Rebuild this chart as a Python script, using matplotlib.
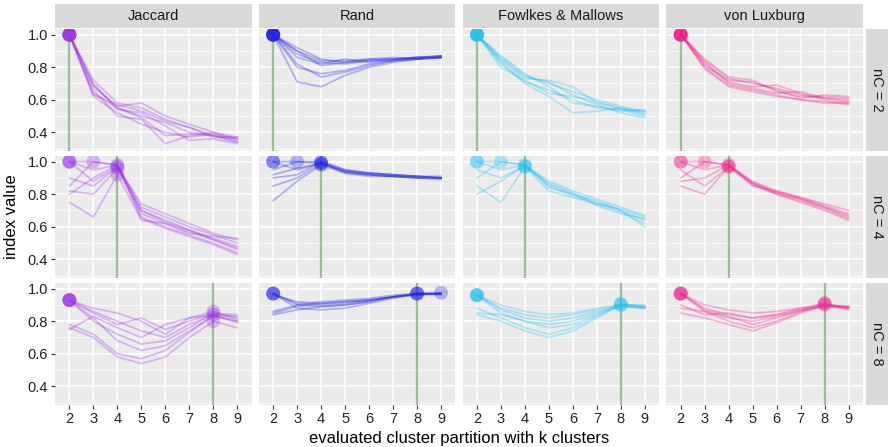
import numpy as np
import matplotlib
matplotlib.use("Agg")
import matplotlib.pyplot as plt

plt.rcParams['font.family'] = ['Liberation Sans', 'DejaVu Sans']

# k = number of clusters of the evaluated partition
k_values = [2, 3, 4, 5, 6, 7, 8, 9]
indices = ["Jaccard", "Rand", "Fowlkes & Mallows", "von Luxburg"]
n_true = [2, 4, 8]
index_colors = ["#9b30e8", "#1f1fe8", "#1ec0f0", "#f0208a"]

# nC = 2
jaccard_2 = [
    [1.0, 0.72, 0.58, 0.55, 0.48, 0.43, 0.38, 0.36],
    [1.0, 0.68, 0.56, 0.58, 0.50, 0.45, 0.40, 0.37],
    [1.0, 0.64, 0.55, 0.50, 0.46, 0.40, 0.38, 0.34],
    [1.0, 0.62, 0.52, 0.45, 0.40, 0.37, 0.39, 0.36],
    [1.0, 0.70, 0.54, 0.52, 0.44, 0.35, 0.36, 0.33],
    [1.0, 0.66, 0.50, 0.48, 0.33, 0.38, 0.40, 0.35],
    [1.0, 0.63, 0.57, 0.53, 0.47, 0.43, 0.37, 0.37],
    [1.0, 0.69, 0.55, 0.49, 0.38, 0.39, 0.38, 0.34],
]
rand_2 = [
    [1.0, 0.90, 0.84, 0.84, 0.85, 0.85, 0.86, 0.87],
    [1.0, 0.88, 0.83, 0.82, 0.84, 0.85, 0.86, 0.86],
    [1.0, 0.92, 0.85, 0.83, 0.84, 0.84, 0.85, 0.86],
    [1.0, 0.86, 0.82, 0.85, 0.83, 0.85, 0.86, 0.87],
    [1.0, 0.90, 0.81, 0.83, 0.85, 0.86, 0.85, 0.86],
    [1.0, 0.82, 0.74, 0.77, 0.81, 0.84, 0.86, 0.86],
    [1.0, 0.71, 0.68, 0.75, 0.80, 0.83, 0.85, 0.86],
    [1.0, 0.80, 0.76, 0.78, 0.82, 0.84, 0.85, 0.87],
]
fm_2 = [
    [1.0, 0.86, 0.75, 0.70, 0.65, 0.60, 0.56, 0.53],
    [1.0, 0.84, 0.73, 0.72, 0.68, 0.58, 0.55, 0.52],
    [1.0, 0.82, 0.71, 0.66, 0.60, 0.55, 0.54, 0.50],
    [1.0, 0.87, 0.76, 0.68, 0.58, 0.56, 0.53, 0.54],
    [1.0, 0.83, 0.70, 0.62, 0.52, 0.53, 0.55, 0.51],
    [1.0, 0.85, 0.74, 0.71, 0.63, 0.57, 0.52, 0.49],
    [1.0, 0.80, 0.72, 0.64, 0.62, 0.59, 0.54, 0.53],
]
vl_2 = [
    [1.0, 0.84, 0.73, 0.70, 0.67, 0.63, 0.61, 0.60],
    [1.0, 0.82, 0.71, 0.68, 0.69, 0.64, 0.60, 0.58],
    [1.0, 0.85, 0.74, 0.72, 0.65, 0.62, 0.62, 0.61],
    [1.0, 0.80, 0.69, 0.66, 0.63, 0.60, 0.59, 0.57],
    [1.0, 0.81, 0.72, 0.71, 0.66, 0.61, 0.63, 0.62],
    [1.0, 0.83, 0.70, 0.67, 0.64, 0.65, 0.61, 0.59],
    [1.0, 0.79, 0.68, 0.65, 0.62, 0.60, 0.58, 0.58],
]

# nC = 4
jaccard_4 = [
    [1.0, 1.0, 0.98, 0.72, 0.66, 0.60, 0.55, 0.50],
    [1.0, 0.95, 0.98, 0.70, 0.64, 0.58, 0.53, 0.48],
    [0.85, 1.0, 0.98, 0.68, 0.62, 0.57, 0.52, 0.46],
    [0.80, 0.90, 0.98, 0.66, 0.60, 0.55, 0.50, 0.44],
    [0.75, 0.66, 0.92, 0.64, 0.62, 0.56, 0.54, 0.53],
    [0.90, 0.85, 0.97, 0.74, 0.68, 0.62, 0.56, 0.52],
    [1.0, 0.88, 0.97, 0.65, 0.59, 0.54, 0.49, 0.43],
    [0.82, 0.80, 0.96, 0.70, 0.63, 0.58, 0.52, 0.47],
]
rand_4 = [
    [1.0, 1.0, 1.0, 0.95, 0.93, 0.92, 0.91, 0.90],
    [1.0, 0.95, 0.99, 0.94, 0.92, 0.91, 0.91, 0.90],
    [0.95, 1.0, 0.99, 0.93, 0.92, 0.91, 0.90, 0.90],
    [0.90, 0.92, 1.0, 0.95, 0.93, 0.92, 0.91, 0.91],
    [0.85, 0.90, 0.99, 0.94, 0.92, 0.91, 0.90, 0.90],
    [0.76, 0.88, 0.98, 0.93, 0.91, 0.91, 0.90, 0.89],
    [0.92, 0.96, 0.99, 0.94, 0.93, 0.92, 0.91, 0.90],
]
fm_4 = [
    [1.0, 1.0, 0.98, 0.88, 0.82, 0.77, 0.72, 0.67],
    [1.0, 0.95, 0.98, 0.86, 0.80, 0.75, 0.70, 0.64],
    [0.90, 1.0, 0.98, 0.85, 0.79, 0.74, 0.69, 0.62],
    [0.85, 0.75, 0.97, 0.82, 0.78, 0.74, 0.71, 0.66],
    [0.80, 0.88, 0.98, 0.84, 0.80, 0.76, 0.70, 0.60],
    [0.95, 0.90, 0.97, 0.87, 0.81, 0.73, 0.68, 0.65],
]
vl_4 = [
    [1.0, 1.0, 0.98, 0.88, 0.82, 0.78, 0.73, 0.68],
    [1.0, 0.95, 0.98, 0.87, 0.81, 0.77, 0.72, 0.66],
    [0.90, 1.0, 0.98, 0.86, 0.80, 0.76, 0.71, 0.65],
    [0.85, 0.80, 0.97, 0.85, 0.82, 0.78, 0.74, 0.70],
    [0.88, 0.90, 0.98, 0.86, 0.80, 0.75, 0.70, 0.64],
    [0.95, 0.85, 0.97, 0.87, 0.81, 0.77, 0.72, 0.67],
]

# nC = 8
jaccard_8 = [
    [0.93, 0.86, 0.80, 0.74, 0.70, 0.78, 0.84, 0.80],
    [0.93, 0.80, 0.72, 0.66, 0.68, 0.76, 0.85, 0.82],
    [0.93, 0.88, 0.85, 0.80, 0.72, 0.82, 0.84, 0.79],
    [0.93, 0.82, 0.68, 0.62, 0.65, 0.74, 0.83, 0.80],
    [0.75, 0.83, 0.76, 0.70, 0.78, 0.82, 0.86, 0.81],
    [0.78, 0.72, 0.60, 0.57, 0.62, 0.73, 0.84, 0.83],
    [0.76, 0.70, 0.58, 0.54, 0.58, 0.70, 0.80, 0.76],
    [0.93, 0.85, 0.78, 0.82, 0.75, 0.80, 0.85, 0.84],
]
rand_8 = [
    [0.97, 0.90, 0.89, 0.90, 0.92, 0.95, 0.97, 0.97],
    [0.97, 0.88, 0.87, 0.88, 0.91, 0.94, 0.97, 0.96],
    [0.97, 0.91, 0.90, 0.91, 0.93, 0.95, 0.96, 0.97],
    [0.85, 0.89, 0.91, 0.92, 0.93, 0.95, 0.97, 0.97],
    [0.84, 0.87, 0.89, 0.90, 0.92, 0.95, 0.96, 0.975],
    [0.86, 0.90, 0.92, 0.93, 0.94, 0.96, 0.97, 0.97],
    [0.96, 0.92, 0.91, 0.92, 0.93, 0.95, 0.97, 0.97],
]
fm_8 = [
    [0.96, 0.88, 0.84, 0.82, 0.84, 0.87, 0.90, 0.89],
    [0.96, 0.85, 0.80, 0.78, 0.80, 0.85, 0.89, 0.88],
    [0.96, 0.90, 0.86, 0.84, 0.85, 0.88, 0.90, 0.89],
    [0.85, 0.84, 0.80, 0.76, 0.78, 0.84, 0.91, 0.89],
    [0.88, 0.82, 0.76, 0.72, 0.76, 0.83, 0.90, 0.88],
    [0.84, 0.80, 0.74, 0.70, 0.74, 0.82, 0.90, 0.90],
    [0.96, 0.87, 0.82, 0.80, 0.82, 0.86, 0.89, 0.88],
]
vl_8 = [
    [0.97, 0.88, 0.84, 0.82, 0.84, 0.87, 0.90, 0.89],
    [0.97, 0.86, 0.82, 0.80, 0.83, 0.86, 0.89, 0.88],
    [0.97, 0.90, 0.87, 0.85, 0.86, 0.88, 0.90, 0.88],
    [0.88, 0.86, 0.80, 0.76, 0.80, 0.86, 0.91, 0.88],
    [0.85, 0.82, 0.78, 0.74, 0.79, 0.85, 0.90, 0.89],
    [0.90, 0.84, 0.85, 0.82, 0.84, 0.88, 0.91, 0.87],
    [0.97, 0.87, 0.83, 0.78, 0.82, 0.87, 0.89, 0.89],
]

panels = [
    [jaccard_2, rand_2, fm_2, vl_2],
    [jaccard_4, rand_4, fm_4, vl_4],
    [jaccard_8, rand_8, fm_8, vl_8],
]

W, H = 888, 447
fig, axes = plt.subplots(3, 4, figsize=(W / 100, H / 100), dpi=100,
                         sharex=True, sharey=True)
fig.subplots_adjust(left=55 / W, right=863 / W, top=1 - 29 / H,
                    bottom=1 - 405 / H, wspace=0.036, hspace=0.041)

k = np.array(k_values)
for r in range(3):
    for c in range(4):
        ax = axes[r, c]
        ax.set_facecolor("#ebebeb")
        for s in ax.spines.values():
            s.set_visible(False)
        ax.set_xlim(1.4, 9.6)
        ax.set_ylim(0.285, 1.035)
        ax.set_xticks(k_values)
        ax.set_yticks([0.4, 0.6, 0.8, 1.0])
        ax.set_yticks([0.3, 0.5, 0.7, 0.9], minor=True)
        ax.grid(True, which="major", color="white", lw=1.1)
        ax.grid(True, which="minor", axis="y", color="white", lw=0.5)
        ax.set_axisbelow(True)
        ax.tick_params(which="major", length=3, width=0.8, color="#333333",
                       labelsize=10.5, labelcolor="#222222", pad=2,
                       left=(c == 0), bottom=(r == 2))
        ax.tick_params(which="minor", length=0)
        ax.set_yticklabels(["0.4", "0.6", "0.8", "1.0"])

        col = index_colors[c]
        ax.axvline(n_true[r], color="#5a9a5a", alpha=0.6, lw=1.6, zorder=1)
        lines = np.array(panels[r][c])
        for row in lines:
            ax.plot(k, row, color=col, alpha=0.3, lw=1.3, zorder=2)
        best = lines.argmax(axis=1)
        ax.scatter(k[best], lines[np.arange(len(lines)), best], s=100,
                   color=col, alpha=0.3, edgecolors="none", zorder=3)

# strips
for c in range(4):
    p = axes[0, c].get_position()
    sa = fig.add_axes([p.x0, p.y1 + 1 / H, p.width, 24 / H])
    sa.set_facecolor("#d9d9d9")
    sa.set_xticks([]); sa.set_yticks([])
    for s in sa.spines.values():
        s.set_visible(False)
    sa.text(0.5, 0.5, indices[c], ha="center", va="center", fontsize=10.5,
            color="#1a1a1a", transform=sa.transAxes)
for r in range(3):
    p = axes[r, 3].get_position()
    sa = fig.add_axes([p.x1 + 3 / W, p.y0, 22 / W, p.height])
    sa.set_facecolor("#d9d9d9")
    sa.set_xticks([]); sa.set_yticks([])
    for s in sa.spines.values():
        s.set_visible(False)
    sa.text(0.5, 0.5, f"nC = {n_true[r]}", ha="center", va="center",
            fontsize=10.5, rotation=-90, color="#1a1a1a", transform=sa.transAxes)

fig.text((55 + 863) / 2 / W, 1 - 438 / H, "evaluated cluster partition with k clusters",
         ha="center", va="center", fontsize=12)
fig.text(12 / W, 1 - 217 / H, "index value", ha="center", va="center",
         rotation=90, fontsize=12)

fig.savefig("out.png", dpi=100)
